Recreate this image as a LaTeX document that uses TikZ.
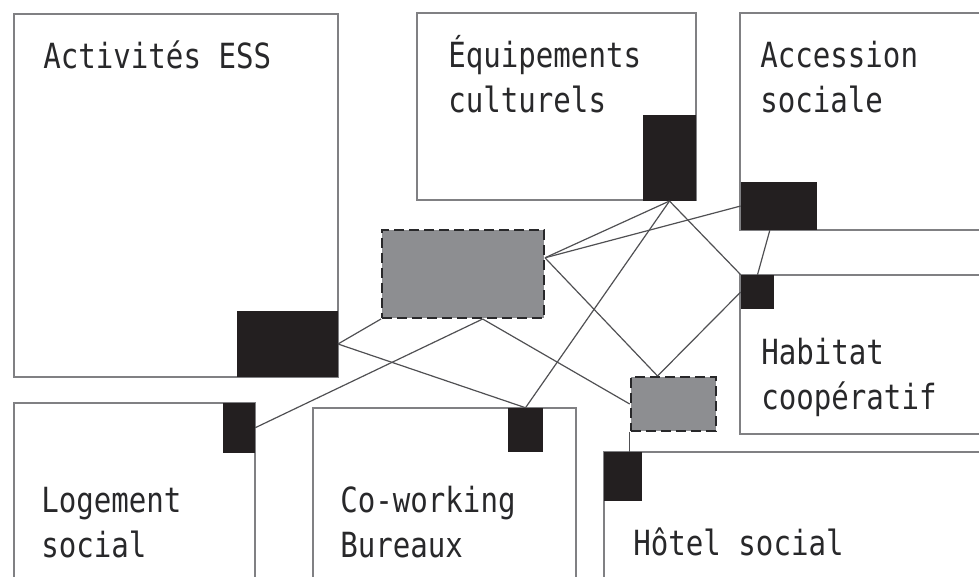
\documentclass[tikz,border=0pt]{standalone}
\usepackage{fontspec}
\usetikzlibrary{calc}
\newfontfamily\zonefont{DejaVu Sans Mono}[FakeStretch=0.84]
\definecolor{portblack}{RGB}{35,31,32}
\definecolor{hubgray}{RGB}{141,142,145}
\definecolor{zonegray}{RGB}{128,128,131}
\definecolor{linkgray}{RGB}{80,80,83}
\definecolor{inkgray}{RGB}{40,40,42}
\begin{document}
\begin{tikzpicture}[x=0.75pt,y=-0.75pt,
  zone/.style={draw=zonegray, line width=1.2pt},
  port/.style={fill=portblack, inner sep=0pt},
  hub/.style={fill=hubgray, draw=inkgray, line width=1.5pt, dash pattern=on 7.5pt off 3.75pt, inner sep=0pt},
  link/.style={draw=linkgray, line width=0.9pt},
  tag/.style={anchor=base west, inner sep=0pt, align=left, text=inkgray,
    font=\zonefont\fontsize{26}{33.75}\selectfont}]
\useasboundingbox (0,0) rectangle (979,577);
\clip (0,0) rectangle (979,577);
% zones
\draw[zone] (14,14) rectangle (338,377);
\draw[zone] (417,13) rectangle (696,200);
\draw[zone] (740,13) rectangle (995,230);
\draw[zone] (740,275) rectangle (995,434);
\draw[zone] (14,403) rectangle (255,595);
\draw[zone] (313,408) rectangle (576,595);
\draw[zone] (604,452) rectangle (995,595);
% labels (base = last line)
\node[tag] (ess) at (43,69) {Activités ESS};
\node[tag] (equip) at (448,113) {Équipements\\culturels};
\node[tag] (access) at (760,113) {Accession\\sociale};
\node[tag] (habitat) at (761,410) {Habitat\\coopératif};
\node[tag] (logement) at (41,557) {Logement\\social};
\node[tag] (cowork) at (340,557) {Co-working\\Bureaux};
\node[tag] (hotel) at (633,555) {Hôtel social};
% ports
\node[port, minimum width=75.75pt, minimum height=50pt] (essport) at (287.2,344) {};
\node[port, minimum width=39.75pt, minimum height=64.3pt] (equipport) at (669.5,157.9) {};
\node[port, minimum width=57pt, minimum height=36pt] (accport) at (779,206) {};
\node[port, minimum width=24.75pt, minimum height=25.5pt] (habport) at (757.5,292) {};
\node[port, minimum width=24.2pt, minimum height=37.5pt] (logport) at (238.9,427.7) {};
\node[port, minimum width=26.25pt, minimum height=33pt] (coport) at (525.5,430) {};
\node[port, minimum width=28.5pt, minimum height=36.75pt] (hotport) at (623,476.5) {};
% hubs
\node[hub, minimum width=121.5pt, minimum height=66pt] (bighub) at (463,274) {};
\node[hub, minimum width=63.75pt, minimum height=40.5pt] (smallhub) at (673.2,404) {};
% links
\coordinate (hubfoot) at ($(bighub.south west)!.62!(bighub.south east)$);
\coordinate (hubside) at ($(bighub.north east)!.32!(bighub.south east)$);
\coordinate (smalltop) at ($(smallhub.north west)!.32!(smallhub.north east)$);
\draw[link] (essport.east) -- (bighub.south west);
\draw[link] (essport.east) -- (coport.north);
\draw[link] (hubfoot) -- (logport.east);
\draw[link] (hubfoot) -- (smallhub.west);
\draw[link] (hubside) -- (equipport.south);
\draw[link] (hubside) -- (accport.west);
\draw[link] (hubside) -- (smalltop);
\draw[link] (coport.north) -- (equipport.south);
\draw[link] (equipport.south) -- (habport.north west);
\draw[link] ($(accport.south west)!.38!(accport.south east)$) -- (habport.north);
\draw[link] (habport.west) -- (smalltop);
\draw[link] (smallhub.south west) -- (smallhub.south west |- hotport.north);
\end{tikzpicture}
\end{document}
